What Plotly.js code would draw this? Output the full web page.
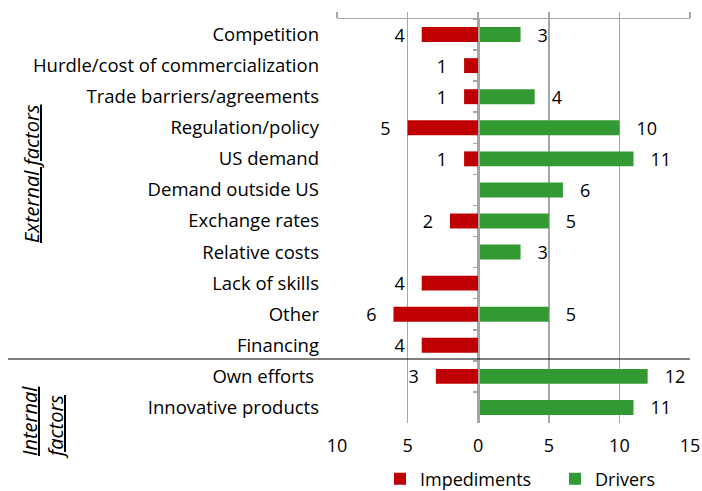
<!DOCTYPE html>
<html>
<head>
<meta charset="utf-8">
<script src="https://cdn.plot.ly/plotly-3.0.1.min.js"></script>
<style>html,body{margin:0;padding:0;background:#fff}#chart{width:702px;height:491px}</style>
</head>
<body>
<div id="chart"></div>
<script>
var categories = ["Competition","Hurdle/cost of commercialization","Trade barriers/agreements","Regulation/policy","US demand","Demand outside US","Exchange rates","Relative costs","Lack of skills","Other","Financing","Own efforts ","Innovative products"];
var impediments = [4,1,1,5,1,0,2,0,4,6,4,3,0];
var drivers = [3,0,4,10,11,6,5,3,0,5,0,12,11];
var tickVals = [-10,-5,0,5,10,15];
var tickText = ["10","5","0","5","10","15"];

var NB = "\u00a0";
var pad = NB+NB+NB;
var FONT = "'Open Sans', sans-serif";

var tImp = {
  type:"bar", orientation:"h", name:"Impediments",
  y: categories, x: impediments.map(function(v){return v ? -v : null;}),
  text: impediments.map(function(v){return v ? v + pad : "";}),
  textposition:"outside", cliponaxis:false, constraintext:"none",
  textfont:{size:18,color:"#000",family:FONT},
  marker:{color:"#C00000"}, width:0.48, hoverinfo:"skip"
};
var tDrv = {
  type:"bar", orientation:"h", name:"Drivers",
  y: categories, x: drivers.map(function(v){return v ? v : null;}),
  text: drivers.map(function(v){return v ? pad + v : "";}),
  textposition:"outside", cliponaxis:false, constraintext:"none",
  textfont:{size:18,color:"#000",family:FONT},
  marker:{color:"#339933"}, width:0.48, hoverinfo:"skip"
};
var tDummy = {
  type:"scatter", mode:"markers", x:categories.map(function(){return 0;}), y:categories,
  xaxis:"x2", yaxis:"y2", marker:{opacity:0, size:1}, showlegend:false, hoverinfo:"skip"
};

var layout = {
  width:702, height:491,
  margin:{l:337, r:12, t:19, b:68},
  paper_bgcolor:"#fff", plot_bgcolor:"#fff",
  font:{family:FONT, size:18, color:"#000"},
  barmode:"relative", bargap:0.52,
  showlegend:true,
  legend:{orientation:"h", xref:"container", yref:"container", x:380/702, xanchor:"left",
          y:(491-479)/491, yanchor:"middle", font:{size:18}, itemwidth:30, traceorder:"normal",
          entrywidth:130, entrywidthmode:"pixels"},
  xaxis:{range:[-10,15], tickvals:tickVals, ticktext:tickText, showgrid:true,
         gridcolor:"#A6A6A6", gridwidth:1.5, zeroline:false, showline:false,
         ticks:"", tickfont:{size:18}, ticklabelstandoff:10, fixedrange:true},
  xaxis2:{overlaying:"x", matches:"x", side:"top", anchor:"y", showline:true, linecolor:"#A6A6A6",
          linewidth:1.5, ticks:"outside", ticklen:6, tickcolor:"#A6A6A6", tickwidth:1.5,
          tickvals:tickVals, showticklabels:false, showgrid:false, zeroline:false},
  yaxis:{range:[12.5,-0.5], autorange:false, showgrid:false, zeroline:false, showline:false, ticks:"",
         tickfont:{size:18.5}, ticklabelstandoff:17, categoryorder:"array", categoryarray:categories},
  yaxis2:{overlaying:"y", matches:"y", anchor:"free", position:0.4, showline:true,
          linecolor:"#A6A6A6", linewidth:1.5, ticks:"outside", tickson:"boundaries", ticklen:5,
          tickcolor:"#A6A6A6", tickwidth:1.5, showticklabels:false, showgrid:false, zeroline:false,
          categoryorder:"array", categoryarray:categories},
  shapes:[
    {type:"line", xref:"paper", yref:"paper", x0:-329/353, x1:1, y0:(423-359)/404, y1:(423-359)/404,
     line:{color:"#000", width:1}}
  ],
  annotations:[
    {xref:"paper", yref:"paper", x:-306/353, y:(423-174)/404, text:"<i><u>External factors</u></i>",
     textangle:-90, showarrow:false, font:{size:20}, xanchor:"center", yanchor:"middle"},
    {xref:"paper", yref:"paper", x:-295/353, y:(423-423)/404, text:"<i><u>Internal</u></i><br><i><u>factors</u></i>",
     textangle:-90, showarrow:false, font:{size:20}, align:"left", xanchor:"center", yanchor:"middle"}
  ]
};

Plotly.newPlot("chart", [tImp, tDrv, tDummy], layout, {displayModeBar:false, staticPlot:true});
</script>
</body>
</html>
